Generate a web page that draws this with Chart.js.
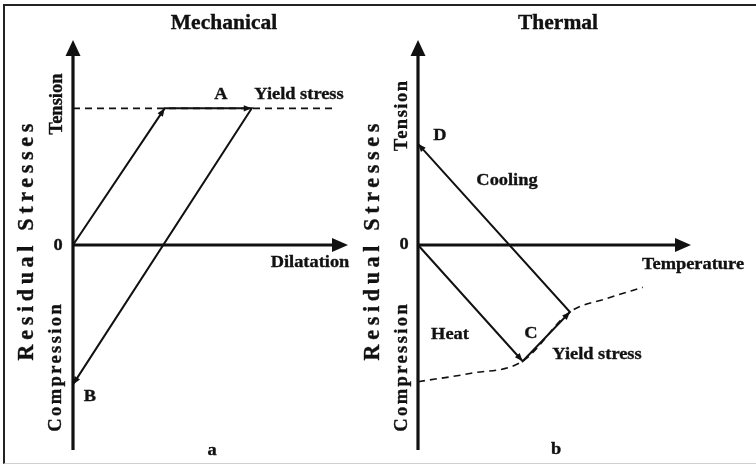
<!DOCTYPE html>
<html>
<head>
<meta charset="utf-8">
<script src="https://cdn.jsdelivr.net/npm/chart.js@4"></script>
<style>
  html, body { margin: 0; padding: 0; background: #fff; }
  #frame { position: absolute; left: 3px; top: 4px; width: 760px; height: 457px;
           border-top: 2px solid #222; border-left: 2px solid #222; border-bottom: 1px solid #d0d0d0; }
  canvas { position: absolute; top: 0; }
  #cL { left: 0; }
  #cR { left: 340px; }
</style>
</head>
<body>
<div id="frame"></div>
<canvas id="cL" width="378" height="464"></canvas>
<canvas id="cR" width="416" height="464"></canvas>
<script>
// ---------- data (schematic units: stress relative to yield stress) ----------
const axisRangeX = [0, 3];
const axisRangeY = [-1.5, 1.5];

// Mechanical: loading O -> yield, plastic flow A, unloading to B
const mechPathX = [0, 1.0, 1.95, 0];
const mechPathY = [0, 1.0, 1.0, -1.02];
const mechYieldX = [0, 2.83];
const mechYieldY = [1.0, 1.0];

// Thermal: heating O -> C, yielding C -> end, cooling to D
const thermPathX = [0, 1.15, 1.67, 0];
const thermPathY = [0, -0.85, -0.49, 0.74];
const thermYieldX = [0, 0.57, 1.15, 1.67, 2.08, 2.47];
const thermYieldY = [-1.0, -0.94, -0.85, -0.49, -0.39, -0.31];

const mechLabels = ['Mechanical', 'A', 'Yield stress', '0', 'Dilatation', 'B', 'a'];
const thermLabels = ['Thermal', 'D', 'Cooling', '0', 'Temperature', 'Heat', 'C', 'Yield stress', 'b'];
const sideLabels = ['Residual Stresses', 'Tension', 'Compression'];

// ---------- helpers ----------
const SX = 1.05;
const FONT = '"Liberation Serif", "Times New Roman", serif';
const INK = '#111';

function pts(xs, ys) { return xs.map((x, i) => ({ x: x, y: ys[i] })); }

function drawText(ctx, t, x, y, size, rot, sp) {
  ctx.save();
  ctx.translate(x, y);
  ctx.scale(SX, 1);
  if (rot) ctx.rotate(-Math.PI / 2);
  ctx.font = 'bold ' + size + 'px ' + FONT;
  ctx.fillStyle = INK;
  ctx.strokeStyle = INK;
  ctx.lineWidth = 0.35;
  ctx.textAlign = 'center';
  ctx.textBaseline = 'alphabetic';
  ctx.letterSpacing = (sp || 0) + 'px';
  const dx = rot ? (sp || 0) / 2 : 0;
  ctx.fillText(t, dx, 0);
  ctx.strokeText(t, dx, 0);
  ctx.restore();
}

function arrowHead(ctx, x1, y1, x2, y2, len, hw) {
  const a = Math.atan2(y2 - y1, x2 - x1);
  const c = Math.cos(a), s = Math.sin(a);
  ctx.beginPath();
  ctx.moveTo(x2, y2);
  ctx.lineTo(x2 - len * c - hw * s, y2 - len * s + hw * c);
  ctx.lineTo(x2 - len * c + hw * s, y2 - len * s - hw * c);
  ctx.closePath();
  ctx.fillStyle = INK;
  ctx.fill();
}

const decor = {
  id: 'decor',
  afterDatasetsDraw(chart, args, opts) {
    const ctx = chart.ctx;
    const xs = chart.scales.x, ys = chart.scales.y;
    const x0 = xs.getPixelForValue(0), y0 = ys.getPixelForValue(0);
    const xEnd = xs.getPixelForValue(axisRangeX[1]);
    const yTop = ys.getPixelForValue(axisRangeY[1]);
    const yBot = ys.getPixelForValue(axisRangeY[0]);
    ctx.save();
    ctx.strokeStyle = INK;
    ctx.lineWidth = 3.2;
    ctx.lineCap = 'butt';
    // y axis
    ctx.beginPath(); ctx.moveTo(x0, yBot); ctx.lineTo(x0, yTop + 12); ctx.stroke();
    arrowHead(ctx, x0, yBot, x0, yTop, 16, 7.5);
    // x axis
    ctx.beginPath(); ctx.moveTo(x0, y0); ctx.lineTo(xEnd - 12, y0); ctx.stroke();
    arrowHead(ctx, x0, y0, xEnd, y0, 16, 7);
    // small arrowheads at each path segment end
    const meta = chart.getDatasetMeta(opts.pathIndex);
    for (let i = 1; i < meta.data.length; i++) {
      const p = meta.data[i - 1], q = meta.data[i];
      arrowHead(ctx, p.x, p.y, q.x, q.y, 8, 3.2);
    }
    // text
    const off = opts.offset;
    opts.labels.forEach(l => drawText(ctx, l.t, l.x - off, l.y, l.s, l.r, l.sp));
    ctx.restore();
  }
};

function makeChart(id, pathX, pathY, yieldX, yieldY, curve, pad, labels, offset) {
  return new Chart(document.getElementById(id), {
    type: 'scatter',
    data: {
      datasets: [
        { data: pts(yieldX, yieldY), showLine: true, borderColor: INK, borderWidth: 1.6,
          borderDash: [7, 5], pointRadius: 0, clip: false,
          cubicInterpolationMode: curve ? 'monotone' : 'default', tension: 0 },
        { data: pts(pathX, pathY), showLine: true, borderColor: INK, borderWidth: 2,
          pointRadius: 0, clip: false, tension: 0 }
      ]
    },
    options: {
      responsive: false,
      animation: false,
      events: [],
      layout: { padding: pad },
      scales: {
        x: { type: 'linear', display: false, min: axisRangeX[0], max: axisRangeX[1] },
        y: { type: 'linear', display: false, min: axisRangeY[0], max: axisRangeY[1] }
      },
      plugins: {
        legend: { display: false },
        tooltip: { enabled: false },
        decor: { pathIndex: 1, labels: labels, offset: offset }
      }
    },
    plugins: [decor]
  });
}

const leftLabels = [
  { t: mechLabels[0], x: 224, y: 29, s: 20.5 },
  { t: mechLabels[1], x: 221, y: 99, s: 17.5 },
  { t: mechLabels[2], x: 299, y: 99, s: 17.5 },
  { t: mechLabels[3], x: 58, y: 250, s: 17.5 },
  { t: mechLabels[4], x: 310, y: 267, s: 17.5 },
  { t: mechLabels[5], x: 90, y: 401, s: 17.5 },
  { t: mechLabels[6], x: 212, y: 455, s: 17.5 },
  { t: sideLabels[0], x: 33, y: 242, s: 22, r: true, sp: 4.7 },
  { t: sideLabels[1], x: 62, y: 104, s: 18.5, r: true, sp: 0 },
  { t: sideLabels[2], x: 61, y: 368, s: 18.5, r: true, sp: 2.4 }
];
const rightLabels = [
  { t: thermLabels[0], x: 558, y: 29, s: 20.5 },
  { t: thermLabels[1], x: 440, y: 140, s: 17.5 },
  { t: thermLabels[2], x: 507, y: 185, s: 17.5 },
  { t: thermLabels[3], x: 404, y: 249, s: 17.5 },
  { t: thermLabels[4], x: 693, y: 269, s: 17.5 },
  { t: thermLabels[5], x: 450, y: 339, s: 17.5 },
  { t: thermLabels[6], x: 531, y: 338, s: 17.5 },
  { t: thermLabels[7], x: 597, y: 359, s: 17.5 },
  { t: thermLabels[8], x: 556, y: 454, s: 17.5 },
  { t: sideLabels[0], x: 379, y: 242, s: 22, r: true, sp: 4.7 },
  { t: sideLabels[1], x: 407, y: 116, s: 18.5, r: true, sp: 1.5 },
  { t: sideLabels[2], x: 407, y: 368, s: 18.5, r: true, sp: 2.4 }
];

makeChart('cL', mechPathX, mechPathY, mechYieldX, mechYieldY, false,
  { left: 73, right: 30, top: 40, bottom: 14 }, leftLabels, 0);
makeChart('cR', thermPathX, thermPathY, thermYieldX, thermYieldY, true,
  { left: 78, right: 65, top: 40, bottom: 14 }, rightLabels, 340);
</script>
</body>
</html>
